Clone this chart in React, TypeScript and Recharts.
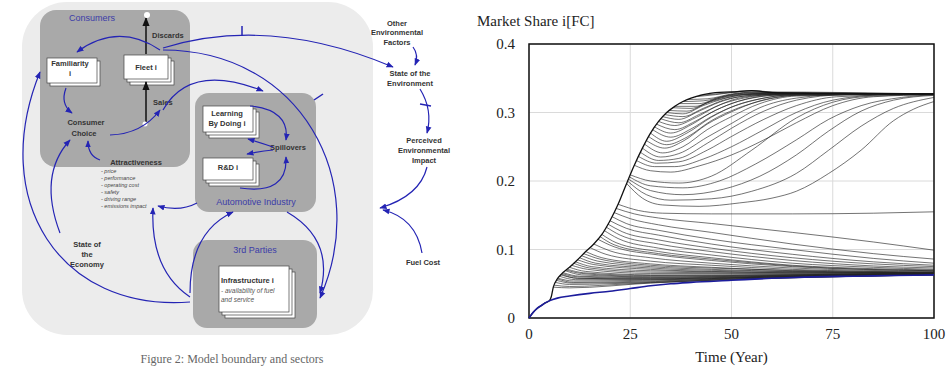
import { CartesianGrid, Line, LineChart, ReferenceArea, XAxis, YAxis } from "recharts";

// time axis and market share axis
const yearTicks = [0, 25, 50, 75, 100];
const shareTicks = [0, 0.1, 0.2, 0.3, 0.4];

// [year, share] points
// upper edge of the run bundle
const envelopeRun = [
  [0, 0], [1, 0.008], [2, 0.014], [3, 0.018], [4, 0.022], [5, 0.025], [5.5, 0.031], [6, 0.045],
  [7, 0.057], [8, 0.064], [10, 0.074], [12, 0.085], [14, 0.097], [16, 0.108], [18, 0.122],
  [20, 0.142], [22, 0.166], [24, 0.195], [26, 0.223], [28, 0.248], [30, 0.27], [32, 0.287],
  [34, 0.3], [36, 0.309], [38, 0.316], [40, 0.321], [43, 0.326], [46, 0.329], [50, 0.33],
  [55, 0.332], [60, 0.329], [70, 0.328], [100, 0.327],
];

// lowest run (blue)
const baseRun = [
  [0, 0], [1, 0.008], [2, 0.014], [3, 0.018], [4, 0.022], [5, 0.025], [7, 0.029], [10, 0.032],
  [15, 0.036], [20, 0.039], [25, 0.043], [30, 0.047], [35, 0.05], [40, 0.052], [50, 0.055],
  [60, 0.058], [70, 0.06], [80, 0.061], [90, 0.062], [100, 0.063],
];

// runs that dip and come back to the plateau
const rejoinRuns = [
  [[42, 0.325], [48, 0.328], [55, 0.332], [62, 0.329], [100, 0.327]],
  [[41, 0.323], [46, 0.326], [52, 0.33], [58, 0.33], [100, 0.327]],
  [[39, 0.319], [44, 0.32], [50, 0.327], [56, 0.33], [65, 0.328], [100, 0.327]],
  [[38, 0.316], [43, 0.317], [49, 0.325], [55, 0.329], [100, 0.327]],
  [[37, 0.313], [42, 0.313], [47, 0.322], [53, 0.328], [60, 0.328], [100, 0.327]],
  [[36, 0.309], [41, 0.309], [46, 0.319], [52, 0.326], [60, 0.328], [100, 0.327]],
  [[35.5, 0.307], [40, 0.306], [45, 0.317], [50, 0.325], [58, 0.328], [100, 0.327]],
  [[34.5, 0.303], [39, 0.302], [44, 0.314], [50, 0.323], [57, 0.327], [100, 0.327]],
  [[34, 0.3], [38, 0.298], [43, 0.31], [48, 0.32], [53, 0.326], [62, 0.327], [100, 0.327]],
  [[33.5, 0.297], [38, 0.294], [43, 0.306], [48, 0.318], [55, 0.325], [64, 0.327], [100, 0.327]],
  [[33, 0.294], [37, 0.29], [42, 0.302], [47, 0.315], [52, 0.323], [60, 0.327], [100, 0.327]],
  [[32.5, 0.291], [37, 0.285], [42, 0.297], [47, 0.311], [53, 0.321], [62, 0.327], [100, 0.327]],
  [[32, 0.287], [36, 0.281], [41, 0.292], [46, 0.308], [50, 0.318], [57, 0.325], [66, 0.327], [100, 0.327]],
  [[31.5, 0.283], [36, 0.275], [41, 0.287], [46, 0.303], [52, 0.317], [60, 0.325], [100, 0.327]],
  [[31, 0.279], [35, 0.27], [40, 0.282], [45, 0.3], [50, 0.313], [57, 0.323], [66, 0.327], [100, 0.327]],
  [[30.5, 0.275], [35, 0.264], [40, 0.276], [45, 0.294], [51, 0.31], [58, 0.321], [68, 0.327], [100, 0.327]],
  [[30, 0.27], [34, 0.258], [39, 0.27], [45, 0.293], [50, 0.308], [57, 0.32], [66, 0.326], [100, 0.327]],
  [[29.5, 0.265], [34, 0.253], [39, 0.264], [45, 0.288], [51, 0.305], [58, 0.318], [68, 0.326], [100, 0.327]],
  [[29, 0.259], [33.5, 0.248], [38, 0.258], [44, 0.283], [50, 0.301], [57, 0.317], [66, 0.325], [100, 0.327]],
  [[28.5, 0.254], [33, 0.241], [38, 0.25], [44, 0.275], [50, 0.294], [57, 0.313], [66, 0.324], [100, 0.327]],
  [[28, 0.248], [32.5, 0.235], [37, 0.24], [44, 0.264], [50, 0.284], [57, 0.307], [66, 0.321], [80, 0.327], [100, 0.327]],
  [[27.5, 0.242], [32, 0.23], [37, 0.233], [44, 0.255], [50, 0.277], [58, 0.302], [66, 0.318], [78, 0.326], [100, 0.327]],
  [[27, 0.236], [31.5, 0.226], [37, 0.228], [44, 0.245], [50, 0.265], [58, 0.29], [66, 0.31], [76, 0.323], [100, 0.327]],
  [[26.5, 0.23], [31, 0.221], [36, 0.221], [43, 0.232], [50, 0.25], [58, 0.275], [66, 0.3], [75, 0.318], [88, 0.326], [100, 0.327]],
  [[26, 0.223], [30, 0.215], [35, 0.213], [42, 0.222], [50, 0.238], [58, 0.26], [66, 0.285], [75, 0.31], [85, 0.323], [100, 0.326]],
];

// runs that sag to ~0.17 and recover late
const lateRuns = [
  [[25, 0.209], [30, 0.2], [37, 0.197], [45, 0.207], [55, 0.245], [66, 0.292], [75, 0.315], [85, 0.324], [100, 0.326]],
  [[24.8, 0.206], [30, 0.193], [38, 0.19], [47, 0.2], [56, 0.225], [66, 0.26], [74, 0.29], [82, 0.31], [92, 0.322], [100, 0.326]],
  [[24.5, 0.203], [30, 0.186], [38, 0.18], [48, 0.188], [57, 0.207], [66, 0.238], [74, 0.273], [82, 0.302], [90, 0.318], [100, 0.325]],
  [[24.3, 0.2], [29, 0.18], [35, 0.172], [45, 0.174], [55, 0.185], [66, 0.211], [74, 0.245], [82, 0.28], [90, 0.306], [100, 0.322]],
  [[24, 0.197], [28, 0.175], [33, 0.165], [42, 0.163], [52, 0.168], [60, 0.175], [66, 0.185], [74, 0.211], [82, 0.245], [90, 0.288], [95, 0.305], [100, 0.316]],
];

// runs that fall away and settle low
const lowRuns = [
  [[22, 0.166], [27, 0.157], [33, 0.153], [45, 0.152], [65, 0.152], [85, 0.153], [100, 0.155]],
  [[21.5, 0.16], [26, 0.152], [32, 0.146], [45, 0.138], [65, 0.125], [85, 0.111], [100, 0.099]],
  [[21, 0.154], [25, 0.145], [32, 0.136], [45, 0.125], [65, 0.108], [85, 0.094], [100, 0.086]],
  [[20.5, 0.148], [24, 0.138], [32, 0.128], [45, 0.115], [65, 0.1], [85, 0.087], [100, 0.08]],
  [[20, 0.142], [24, 0.131], [32, 0.121], [45, 0.108], [65, 0.093], [85, 0.082], [100, 0.077]],
  [[19.5, 0.137], [23, 0.126], [32, 0.114], [45, 0.102], [65, 0.088], [85, 0.079], [100, 0.075]],
  [[19, 0.133], [22.5, 0.121], [32, 0.108], [45, 0.097], [65, 0.084], [85, 0.076], [100, 0.073]],
  [[18.5, 0.128], [22, 0.116], [32, 0.102], [45, 0.092], [65, 0.08], [85, 0.074], [100, 0.071]],
  [[18, 0.122], [21.5, 0.11], [32, 0.097], [45, 0.088], [65, 0.077], [85, 0.072], [100, 0.07]],
  [[17.5, 0.119], [21, 0.107], [32, 0.094], [45, 0.086], [65, 0.076], [100, 0.069]],
  [[17, 0.115], [21, 0.104], [32, 0.092], [45, 0.084], [65, 0.075], [100, 0.069]],
  [[16, 0.108], [20, 0.098], [30, 0.088], [45, 0.08], [65, 0.073], [100, 0.068]],
  [[15, 0.103], [19, 0.093], [30, 0.083], [45, 0.077], [65, 0.071], [100, 0.067]],
  [[14, 0.097], [18, 0.088], [30, 0.079], [45, 0.074], [65, 0.069], [100, 0.066]],
  [[13.5, 0.094], [17.5, 0.086], [30, 0.077], [50, 0.072], [100, 0.067]],
  [[13, 0.091], [17, 0.083], [30, 0.075], [45, 0.071], [65, 0.068], [100, 0.066]],
  [[12.5, 0.088], [16.5, 0.08], [30, 0.073], [50, 0.069], [100, 0.066]],
  [[12, 0.085], [16, 0.078], [30, 0.071], [45, 0.068], [65, 0.066], [100, 0.065]],
  [[11.5, 0.082], [15.5, 0.075], [30, 0.069], [55, 0.067], [100, 0.066]],
  [[11, 0.08], [15, 0.073], [30, 0.067], [50, 0.066], [100, 0.065]],
  [[10.5, 0.077], [14.5, 0.071], [30, 0.065], [60, 0.065], [100, 0.066]],
  [[10, 0.074], [14, 0.068], [30, 0.063], [50, 0.063], [100, 0.064]],
  [[9.5, 0.071], [13.5, 0.066], [30, 0.062], [60, 0.063], [100, 0.065]],
  [[9.2, 0.07], [13, 0.065], [28, 0.061], [50, 0.062], [100, 0.066]],
  [[9, 0.069], [13, 0.063], [30, 0.06], [50, 0.061], [100, 0.064]],
  [[8.5, 0.066], [12.5, 0.061], [30, 0.059], [60, 0.062], [100, 0.065]],
  [[8.2, 0.065], [12, 0.06], [28, 0.058], [50, 0.06], [100, 0.065]],
  [[8, 0.064], [12, 0.058], [30, 0.057], [50, 0.059], [100, 0.063]],
  [[7.8, 0.063], [12, 0.058], [28, 0.057], [60, 0.061], [100, 0.065]],
  [[7.5, 0.061], [11.5, 0.056], [30, 0.056], [60, 0.06], [100, 0.064]],
  [[7.2, 0.058], [11, 0.054], [28, 0.055], [60, 0.06], [100, 0.064]],
  [[7, 0.057], [11, 0.052], [30, 0.054], [50, 0.057], [100, 0.063]],
  [[6.8, 0.055], [10.5, 0.051], [25, 0.052], [50, 0.058], [100, 0.064]],
  [[6.5, 0.052], [10, 0.049], [30, 0.052], [60, 0.058], [100, 0.063]],
  [[6.2, 0.048], [10, 0.046], [25, 0.05], [50, 0.057], [100, 0.064]],
  [[6, 0.045], [10, 0.044], [30, 0.051], [50, 0.056], [100, 0.063]],
];

const rows = (pts: number[][]) => pts.map(([t, v]) => ({ t, v }));
const allRuns = [...lowRuns, ...lateRuns, ...rejoinRuns];

const serif = "'Liberation Serif', 'Times New Roman', serif";
const sans = "'Liberation Sans', Arial, sans-serif";
const blue = "#2424b4";
const boxBlue = "#3c3ca8";

function Stack({ x, y, w, h, n }: { x: number; y: number; w: number; h: number; n: number }) {
  const layers = [];
  for (let i = n - 1; i >= 0; i--) {
    layers.push(
      <rect key={i} x={x + i * 3} y={y + i * 3} width={w} height={h} fill="#fff" stroke="#444" strokeWidth={0.7} />
    );
  }
  return <g>{layers}</g>;
}

function Diagram() {
  const arrow = { fill: "none", stroke: blue, strokeWidth: 1.2, markerEnd: "url(#ah)" };
  const lbl = { fontSize: 7.5, fontWeight: 700, fill: "#333", textAnchor: "middle" as const };
  return (
    <svg width={470} height={371} style={{ position: "absolute", left: 0, top: 0 }} fontFamily={sans}>
      <defs>
        <marker id="ah" viewBox="0 0 10 10" refX="9" refY="5" markerWidth="6" markerHeight="6" orient="auto">
          <path d="M0,1 L10,5 L0,9 z" fill={blue} />
        </marker>
        <marker id="bh" viewBox="0 0 10 10" refX="9" refY="5" markerWidth="6" markerHeight="6" orient="auto">
          <path d="M0,1 L10,5 L0,9 z" fill="#111" />
        </marker>
      </defs>
      <rect x={22} y={2} width={351} height={333} rx={45} fill="#ececec" />
      <rect x={40} y={10} width={150} height={157} rx={16} fill="#a9a9a9" />
      <rect x={195} y={93} width={121} height={119} rx={14} fill="#a9a9a9" />
      <rect x={193} y={240} width={124} height={88} rx={14} fill="#a9a9a9" />

      <text x={92} y={21} fontSize={9} fill={boxBlue} textAnchor="middle">Consumers</text>
      <text x={256} y={205} fontSize={9} fill={boxBlue} textAnchor="middle">Automotive Industry</text>
      <text x={255} y={253} fontSize={9} fill={boxBlue} textAnchor="middle">3rd Parties</text>

      <Stack x={47} y={58} w={50} h={25} n={2} />
      <text x={70} y={66} {...lbl}>Familiarity</text>
      <text x={70} y={76} {...lbl}>i</text>
      <Stack x={124} y={55} w={44} h={24} n={3} />
      <text x={146} y={70} {...lbl}>Fleet i</text>
      <Stack x={203} y={106} w={50} h={26} n={3} />
      <text x={227} y={116} {...lbl}>Learning</text>
      <text x={227} y={126} {...lbl}>By Doing i</text>
      <Stack x={203} y={158} w={50} h={22} n={3} />
      <text x={228} y={170} {...lbl}>R&amp;D i</text>
      <Stack x={219} y={266} w={70} h={46} n={3} />
      <text x={221} y={283} fontSize={7.5} fontWeight={700} fill="#333">Infrastructure i</text>
      <text x={221} y={293} fontSize={6.5} fontStyle="italic" fill="#555">- availability of fuel</text>
      <text x={221} y={302} fontSize={6.5} fontStyle="italic" fill="#555">and service</text>

      <line x1={146} y1={123} x2={146} y2={82} stroke="#111" strokeWidth={1.5} markerEnd="url(#bh)" />
      <line x1={146} y1={54} x2={146} y2={18} stroke="#111" strokeWidth={1.5} markerEnd="url(#bh)" />
      <circle cx={147} cy={15} r={3} fill="#fff" />
      <circle cx={145} cy={124} r={2.5} fill="#fff" />
      <text x={152} y={38} fontSize={7.5} fontWeight={700} fill="#333">Discards</text>
      <text x={153} y={105} fontSize={7.5} fontWeight={700} fill="#333">Sales</text>

      <text x={86} y={125} {...lbl}>Consumer</text>
      <text x={84} y={136} {...lbl}>Choice</text>
      <text x={136} y={165} {...lbl}>Attractiveness</text>
      {["- price", "- performance", "- operating cost", "- safety", "- driving range", "- emissions impact"].map((s, i) => (
        <text key={s} x={101} y={173 + i * 7} fontSize={5.5} fontStyle="italic" fill="#444">{s}</text>
      ))}
      <text x={288} y={150} {...lbl}>Spillovers</text>
      <text x={87} y={247} {...lbl}>State of</text>
      <text x={87} y={257} {...lbl}>the</text>
      <text x={87} y={267} {...lbl}>Economy</text>
      <text x={397} y={26} {...lbl}>Other</text>
      <text x={397} y={35} {...lbl}>Environmental</text>
      <text x={397} y={45} {...lbl}>Factors</text>
      <text x={410} y={76} {...lbl}>State of the</text>
      <text x={410} y={86} {...lbl}>Environment</text>
      <text x={424} y={143} {...lbl}>Perceived</text>
      <text x={424} y={153} {...lbl}>Environmental</text>
      <text x={424} y={163} {...lbl}>Impact</text>
      <text x={423} y={265} {...lbl}>Fuel Cost</text>

      <path d="M160,50 Q118,22 77,52" {...arrow} />
      <path d="M66,88 Q60,104 72,113" {...arrow} />
      <path d="M110,135 Q142,134 160,110" {...arrow} />
      <path d="M163,48 Q270,15 393,67" {...arrow} />
      <path d="M163,50 C300,50 372,180 320,298" {...arrow} />
      <path d="M163,110 Q190,62 263,91" {...arrow} />
      <path d="M250,106 Q290,110 286,140" {...arrow} />
      <path d="M273,147 Q262,143 248,139" {...arrow} />
      <path d="M273,150 Q262,151 247,154" {...arrow} />
      <path d="M240,188 Q288,195 286,157" {...arrow} />
      <path d="M197,203 Q180,212 158,206" {...arrow} />
      <path d="M60,233 Q38,175 70,140" {...arrow} />
      <path d="M190,302 C60,312 -12,200 40,72" {...arrow} />
      <path d="M190,297 Q150,270 153,208" {...arrow} />
      <path d="M190,293 Q190,232 233,212" {...arrow} />
      <path d="M287,212 Q335,240 320,293" {...arrow} />
      <path d="M413,47 Q419,55 415,65" {...arrow} />
      <path d="M420,89 Q433,110 427,133" {...arrow} />
      <path d="M427,167 Q420,196 380,208" {...arrow} />
      <path d="M422,253 Q416,218 383,210" {...arrow} />
      <path d="M100,160 Q88,156 88,141" {...arrow} />
      <line x1={242} y1={26} x2={242} y2={36} stroke={blue} strokeWidth={1.5} />
      <line x1={314} y1={100} x2={323} y2={94} stroke={blue} strokeWidth={1.5} />
      <line x1={420} y1={104} x2={431} y2={106} stroke={blue} strokeWidth={1.5} />

      <text x={232} y={363} fontSize={12} fill="#666" textAnchor="middle" fontFamily={serif}>
        Figure 2: Model boundary and sectors
      </text>
    </svg>
  );
}

export default function App() {
  const tick = { fontSize: 15, fill: "#222", fontFamily: serif };
  return (
    <div style={{ position: "absolute", left: 0, top: 0, width: 946, height: 371, background: "#fff" }}>
      <Diagram />
      <div style={{ position: "absolute", left: 470, top: 0, width: 476, height: 371 }}>
        <div style={{ position: "absolute", left: 7, top: 13, fontFamily: serif, fontSize: 15, color: "#222" }}>
          Market Share i[FC]
        </div>
        <LineChart width={476} height={371} margin={{ top: 44, right: 12, bottom: 9, left: 0 }}>
          <CartesianGrid stroke="#dadada" strokeWidth={1} />
          <XAxis
            type="number"
            dataKey="t"
            domain={[0, 100]}
            ticks={yearTicks}
            tick={tick}
            tickSize={0}
            tickMargin={10}
            axisLine={false}
            height={44}
            allowDuplicatedCategory={false}
            label={{ value: "Time (Year)", position: "insideBottom", offset: 0, style: { fontSize: 15, fill: "#222", fontFamily: serif } }}
          />
          <YAxis
            type="number"
            dataKey="v"
            domain={[0, 0.4]}
            ticks={shareTicks}
            tick={tick}
            tickSize={0}
            tickMargin={14}
            axisLine={false}
            width={59}
          />
          {allRuns.map((r, i) => (
            <Line
              key={i}
              data={rows(r)}
              dataKey="v"
              type="monotone"
              stroke="#222"
              strokeOpacity={0.8}
              strokeWidth={0.8}
              dot={false}
              isAnimationActive={false}
            />
          ))}
          <Line data={rows(envelopeRun)} dataKey="v" type="monotone" stroke="#111" strokeWidth={1.3} dot={false} isAnimationActive={false} />
          <Line data={rows(baseRun)} dataKey="v" type="monotone" stroke="#1c1c9c" strokeWidth={1.6} dot={false} isAnimationActive={false} />
          <ReferenceArea x1={0} x2={100} y1={0} y2={0.4} fill="none" stroke="#111" strokeWidth={1.5} fillOpacity={0} ifOverflow="visible" />
        </LineChart>
      </div>
    </div>
  );
}
